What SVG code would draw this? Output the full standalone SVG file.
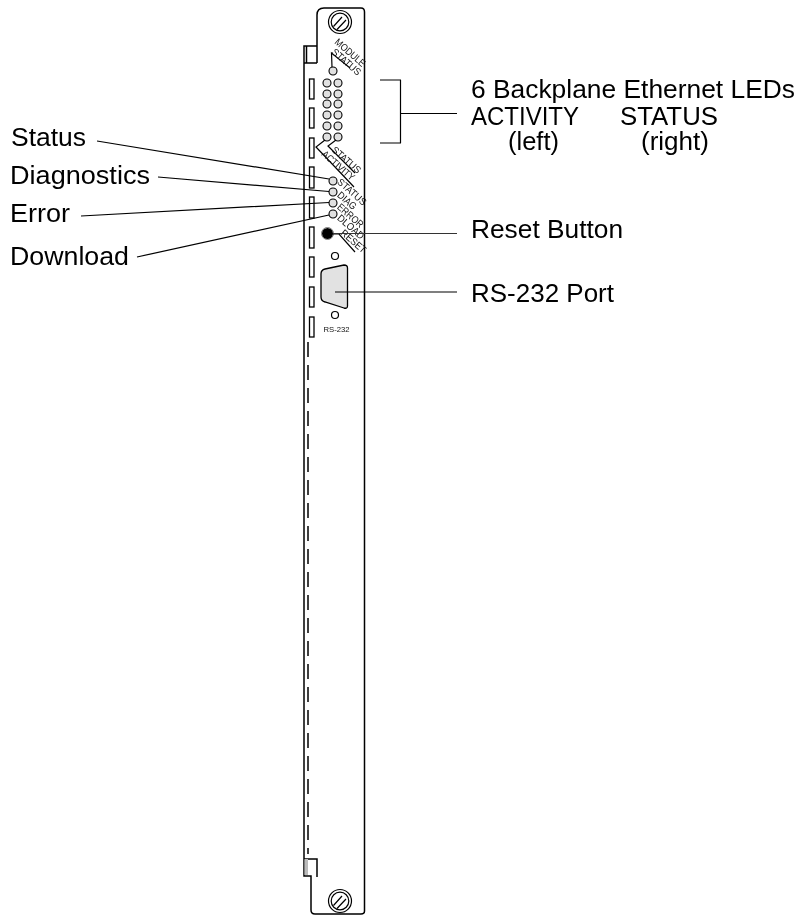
<svg xmlns="http://www.w3.org/2000/svg" width="806" height="915" viewBox="0 0 806 915">
<defs><filter id="n" x="-20%" y="-20%" width="140%" height="140%"><feOffset dx="0" dy="0"/></filter></defs>
<style>
.l{fill:none;stroke:#000;stroke-width:1.5}
.c{fill:none;stroke:#000;stroke-width:1.2}
.led{fill:#e0e0e0;stroke:#000;stroke-width:1.1}
.t{font-family:"Liberation Sans",Arial,sans-serif;font-size:25px;fill:#000;filter:url(#n)}
.s{font-family:"Liberation Sans",Arial,sans-serif;font-size:10px;fill:#111}
.slot{fill:#fff;stroke:#000;stroke-width:1.3}
</style>
<rect width="806" height="915" fill="#fff"/>
<g id="panel">
<path class="l" d="M317 63V15Q317 8 324 8H361Q364.500 8 364.500 12V911Q364.500 914 361 914H315Q311 914 311 910V876H304V46H317M304 63H317M306.500 46V63"/>
<path d="M308 342V854" fill="none" stroke="#000" stroke-width="1.500" stroke-dasharray="15 8"/>
<path d="M304 859H317V877" class="l"/>
<rect x="304.500" y="859" width="3.500" height="16" fill="#bbb"/>
<rect class="slot" x="309.500" y="79" width="4.500" height="20"/>
<rect class="slot" x="309.500" y="108" width="4.500" height="20"/>
<rect class="slot" x="309.500" y="138" width="4.500" height="20"/>
<rect class="slot" x="309.500" y="167" width="4.500" height="21"/>
<rect class="slot" x="309.500" y="197" width="4.500" height="21"/>
<rect class="slot" x="309.500" y="227" width="4.500" height="21"/>
<rect class="slot" x="309.500" y="257" width="4.500" height="20"/>
<rect class="slot" x="309.500" y="287" width="4.500" height="20"/>
<rect class="slot" x="309.500" y="317" width="4.500" height="20"/>
</g>
<g id="screw-top">
<circle class="c" cx="340" cy="22" r="11.500"/><circle class="c" cx="340" cy="22" r="8.800"/>
<path class="c" d="M333.500 26.500L342 17M337 29.500L346 20"/>
</g>
<g id="screw-bottom">
<circle class="c" cx="340" cy="901" r="11.500"/><circle class="c" cx="340" cy="901" r="8.800"/>
<path class="c" d="M333.500 905.500L342 896M337 908.500L346 899"/>
</g>
<g id="module-status">
<circle class="led" cx="333" cy="71" r="4"/>
<path class="c" d="M332 67L331.500 53L350 68"/>
<g filter="url(#n)">
<text class="s" transform="translate(334 43) rotate(41)" textLength="37" lengthAdjust="spacingAndGlyphs">MODULE</text>
<text class="s" transform="translate(331 53) rotate(41)" textLength="35" lengthAdjust="spacingAndGlyphs">STATUS</text>
</g>
</g>
<g id="ethernet-leds">
<circle class="led" cx="327" cy="83" r="4"/><circle class="led" cx="338" cy="83" r="4"/>
<circle class="led" cx="327" cy="94" r="4"/><circle class="led" cx="338" cy="94" r="4"/>
<circle class="led" cx="327" cy="104" r="4"/><circle class="led" cx="338" cy="104" r="4"/>
<circle class="led" cx="327" cy="115" r="4"/><circle class="led" cx="338" cy="115" r="4"/>
<circle class="led" cx="327" cy="126" r="4"/><circle class="led" cx="338" cy="126" r="4"/>
<circle class="led" cx="327" cy="137" r="4"/><circle class="led" cx="338" cy="137" r="4"/>
<path class="c" d="M325 140L316 147L354 187M336 140L328 146L355 173"/>
<g filter="url(#n)">
<text class="s" transform="translate(331 151) rotate(41)" textLength="35" lengthAdjust="spacingAndGlyphs">STATUS</text>
<text class="s" transform="translate(321 155) rotate(41)" textLength="40" lengthAdjust="spacingAndGlyphs">ACTIVITY</text>
</g>
</g>
<g id="status-leds">
<circle class="led" cx="333" cy="181" r="4"/>
<circle class="led" cx="333" cy="192" r="4"/>
<circle class="led" cx="333" cy="203" r="4"/>
<circle class="led" cx="333" cy="214" r="4"/>
<g filter="url(#n)">
<text class="s" transform="translate(336.500 183) rotate(41)" textLength="35" lengthAdjust="spacingAndGlyphs">STATUS</text>
<text class="s" transform="translate(336.500 196) rotate(41)" textLength="22" lengthAdjust="spacingAndGlyphs">DIAG</text>
<text class="s" transform="translate(336.500 208) rotate(41)" textLength="31" lengthAdjust="spacingAndGlyphs">ERROR</text>
<text class="s" transform="translate(336.500 219) rotate(41)" textLength="32" lengthAdjust="spacingAndGlyphs">DLOAD</text>
</g>
</g>
<g id="reset-button">
<circle cx="327.500" cy="233.500" r="5.500" fill="#000"/>
<circle cx="327.500" cy="233.500" r="6" fill="none" stroke="#555" stroke-width="0.800"/>
<path class="c" d="M332 234H339L355 252"/>
<g filter="url(#n)">
<text class="s" transform="translate(340 234) rotate(41)" textLength="30" lengthAdjust="spacingAndGlyphs">RESET</text>
</g>
</g>
<g id="rs232">
<circle class="c" cx="335" cy="256" r="3.500"/>
<circle class="c" cx="335" cy="315" r="3.500"/>
<path d="M321 274Q321 270 325 269L344 265Q347.500 265 347.500 268V306Q347.500 309 344 308L325 302Q321 301 321 297Z" fill="#e2e2e2" stroke="#000" stroke-width="1.300"/>
<g filter="url(#n)"><text class="s" x="323.500" y="332" style="font-size:8px" textLength="26" lengthAdjust="spacingAndGlyphs">RS-232</text></g>
</g>
<g id="connectors">
<path class="c" d="M401 80H380M401 143H380M400.500 80V143M401 113.500H457"/>
<path class="c" d="M97 141L329 179M158 177L329 191.500M81 216L329 202.500M137 257L329 215"/>
<path d="M333 233.500H457" fill="none" stroke="#333" stroke-width="1.200"/>
<path class="c" d="M335 292H457"/>
</g>
<g id="labels">
<text class="t" x="471" y="98" textLength="324" lengthAdjust="spacingAndGlyphs">6 Backplane Ethernet LEDs</text>
<text class="t" x="471" y="125" textLength="108" lengthAdjust="spacingAndGlyphs">ACTIVITY</text>
<text class="t" x="620" y="125" textLength="98" lengthAdjust="spacingAndGlyphs">STATUS</text>
<text class="t" x="508" y="150" textLength="51" lengthAdjust="spacingAndGlyphs">(left)</text>
<text class="t" x="641" y="150" textLength="68" lengthAdjust="spacingAndGlyphs">(right)</text>
<text class="t" x="11" y="146" textLength="75" lengthAdjust="spacingAndGlyphs">Status</text>
<text class="t" x="10" y="184" textLength="140" lengthAdjust="spacingAndGlyphs">Diagnostics</text>
<text class="t" x="10" y="222" textLength="60" lengthAdjust="spacingAndGlyphs">Error</text>
<text class="t" x="10" y="265" textLength="119" lengthAdjust="spacingAndGlyphs">Download</text>
<text class="t" x="471" y="238" textLength="152" lengthAdjust="spacingAndGlyphs">Reset Button</text>
<text class="t" x="471" y="302" textLength="143" lengthAdjust="spacingAndGlyphs">RS-232 Port</text>
</g>
</svg>
